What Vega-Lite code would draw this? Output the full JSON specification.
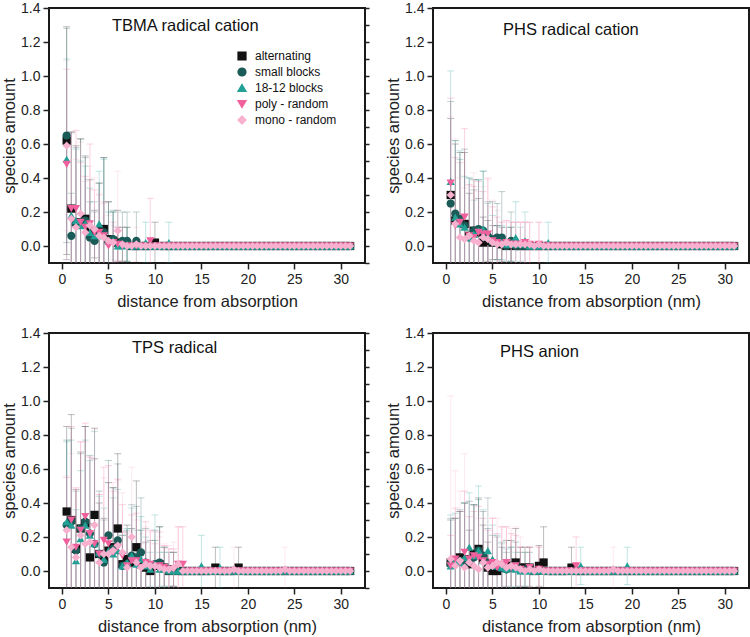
{
"$schema":"https://vega.github.io/schema/vega-lite/v6.json",
"padding":0,
"config":{
"font":"Liberation Sans",
"view":{"stroke":"#1a1a1a","strokeWidth":2},
"axis":{"labelFont":"Liberation Sans","labelFontSize":14,"labelColor":"#222","titleFont":"Liberation Sans","titleFontSize":16.5,"titleFontWeight":"normal","titleColor":"#222","tickColor":"#222","tickWidth":1.5,"tickSize":6,"domain":false,"grid":false,"labelPadding":3},
"title":{"font":"Liberation Sans","fontSize":16.5,"fontWeight":"normal","color":"#111","anchor":"start","frame":"group"},
"legend":{"orient":"none","legendX":187,"legendY":42,"title":null,"padding":0,"labelFont":"Liberation Sans","labelFontSize":12,"labelColor":"#111","symbolSize":60,"symbolOpacity":1,"rowPadding":2,"labelOffset":7}
},
"datasets":{
"A":[
{"s":"a","x":0.5,"y":0.62,"e":0.67},{"s":"a","x":1,"y":0.22,"e":0.45},{"s":"a","x":1.5,"y":0.14,"e":0.45},{"s":"a","x":2,"y":0.13,"e":0.5},{"s":"a","x":2.5,"y":0.16,"e":0.37},{"s":"a","x":3,"y":0.09,"e":0.3},{"s":"a","x":3.5,"y":0.07,"e":0.14},{"s":"a","x":4,"y":0.09,"e":0.28},{"s":"a","x":4.5,"y":0.1,"e":0.42},{"s":"a","x":5,"y":0.04,"e":0.22},{"s":"a","x":5.5,"y":0.03,"e":0.17},{"s":"a","x":6,"y":0.02,"e":0.19},{"s":"a","x":6.5,"y":0.01,"e":0.1},{"s":"a","x":7,"y":0.01,"e":0.1},{"s":"a","x":7.5,"y":0},{"s":"a","x":8,"y":0},{"s":"a","x":8.5,"y":0},{"s":"a","x":9,"y":0},{"s":"a","x":9.5,"y":0},{"s":"a","x":10,"y":0.02,"e":0.12},{"s":"a","x":10.5,"y":0},{"s":"a","x":11,"y":0},{"s":"a","x":11.5,"y":0},{"s":"a","x":12,"y":0},
{"s":"a","x":12.5,"y":0},{"s":"a","x":13,"y":0},{"s":"a","x":13.5,"y":0},{"s":"a","x":14,"y":0},{"s":"a","x":14.5,"y":0},{"s":"a","x":15,"y":0},{"s":"a","x":15.5,"y":0},{"s":"a","x":16,"y":0},{"s":"a","x":16.5,"y":0},{"s":"a","x":17,"y":0},{"s":"a","x":17.5,"y":0},{"s":"a","x":18,"y":0},{"s":"a","x":18.5,"y":0},{"s":"a","x":19,"y":0},{"s":"a","x":19.5,"y":0},{"s":"a","x":20,"y":0},{"s":"a","x":20.5,"y":0},{"s":"a","x":21,"y":0},{"s":"a","x":21.5,"y":0},{"s":"a","x":22,"y":0},{"s":"a","x":22.5,"y":0},{"s":"a","x":23,"y":0},{"s":"a","x":23.5,"y":0},{"s":"a","x":24,"y":0},{"s":"a","x":24.5,"y":0},{"s":"a","x":25,"y":0},{"s":"a","x":25.5,"y":0},{"s":"a","x":26,"y":0},{"s":"a","x":26.5,"y":0},{"s":"a","x":27,"y":0},{"s":"a","x":27.5,"y":0},{"s":"a","x":28,"y":0},{"s":"a","x":28.5,"y":0},{"s":"a","x":29,"y":0},{"s":"a","x":29.5,"y":0},{"s":"a","x":30,"y":0},{"s":"a","x":30.5,"y":0},{"s":"a","x":31,"y":0},
{"s":"b","x":0.5,"y":0.65,"e":0.63},{"s":"b","x":1,"y":0.06,"e":0.25},{"s":"b","x":1.5,"y":0.13,"e":0.45},{"s":"b","x":2,"y":0.14,"e":0.49},{"s":"b","x":2.5,"y":0.15,"e":0.37},{"s":"b","x":3,"y":0.05,"e":0.21},{"s":"b","x":3.5,"y":0.03,"e":0.17},{"s":"b","x":4,"y":0.07,"e":0.3},{"s":"b","x":4.5,"y":0.08,"e":0.44},{"s":"b","x":5,"y":0.03,"e":0.23},{"s":"b","x":5.5,"y":0.04,"e":0.17},{"s":"b","x":6,"y":0.01,"e":0.1},{"s":"b","x":6.5,"y":0.03,"e":0.17},{"s":"b","x":7,"y":0.03,"e":0.17},{"s":"b","x":7.5,"y":0},{"s":"b","x":8,"y":0.03,"e":0.17},{"s":"b","x":8.5,"y":0},{"s":"b","x":9,"y":0},{"s":"b","x":9.5,"y":0},{"s":"b","x":10,"y":0},{"s":"b","x":10.5,"y":0},{"s":"b","x":11,"y":0},{"s":"b","x":11.5,"y":0},{"s":"b","x":12,"y":0},
{"s":"b","x":12.5,"y":0},{"s":"b","x":13,"y":0},{"s":"b","x":13.5,"y":0},{"s":"b","x":14,"y":0},{"s":"b","x":14.5,"y":0},{"s":"b","x":15,"y":0},{"s":"b","x":15.5,"y":0},{"s":"b","x":16,"y":0},{"s":"b","x":16.5,"y":0},{"s":"b","x":17,"y":0},{"s":"b","x":17.5,"y":0},{"s":"b","x":18,"y":0},{"s":"b","x":18.5,"y":0},{"s":"b","x":19,"y":0},{"s":"b","x":19.5,"y":0},{"s":"b","x":20,"y":0},{"s":"b","x":20.5,"y":0},{"s":"b","x":21,"y":0},{"s":"b","x":21.5,"y":0},{"s":"b","x":22,"y":0},{"s":"b","x":22.5,"y":0},{"s":"b","x":23,"y":0},{"s":"b","x":23.5,"y":0},{"s":"b","x":24,"y":0},{"s":"b","x":24.5,"y":0},{"s":"b","x":25,"y":0},{"s":"b","x":25.5,"y":0},{"s":"b","x":26,"y":0},{"s":"b","x":26.5,"y":0},{"s":"b","x":27,"y":0},{"s":"b","x":27.5,"y":0},{"s":"b","x":28,"y":0},{"s":"b","x":28.5,"y":0},{"s":"b","x":29,"y":0},{"s":"b","x":29.5,"y":0},{"s":"b","x":30,"y":0},{"s":"b","x":30.5,"y":0},{"s":"b","x":31,"y":0},
{"s":"c","x":0.5,"y":0.51,"e":0.59},{"s":"c","x":1,"y":0.18,"e":0.49},{"s":"c","x":1.5,"y":0.15,"e":0.42},{"s":"c","x":2,"y":0.12,"e":0.38},{"s":"c","x":2.5,"y":0.13,"e":0.34},{"s":"c","x":3,"y":0.08,"e":0.26},{"s":"c","x":3.5,"y":0.06,"e":0.2},{"s":"c","x":4,"y":0.13,"e":0.31},{"s":"c","x":4.5,"y":0.06,"e":0.45},{"s":"c","x":5,"y":0.03,"e":0.17},{"s":"c","x":5.5,"y":0.03,"e":0.17},{"s":"c","x":6,"y":0},{"s":"c","x":6.5,"y":0},{"s":"c","x":7,"y":0.01,"e":0.1},{"s":"c","x":7.5,"y":0},{"s":"c","x":8,"y":0},{"s":"c","x":8.5,"y":0},{"s":"c","x":9,"y":0.02,"e":0.12},{"s":"c","x":9.5,"y":0},{"s":"c","x":10,"y":0},{"s":"c","x":10.5,"y":0},{"s":"c","x":11,"y":0},{"s":"c","x":11.5,"y":0.02,"e":0.12},{"s":"c","x":12,"y":0},
{"s":"c","x":12.5,"y":0},{"s":"c","x":13,"y":0},{"s":"c","x":13.5,"y":0},{"s":"c","x":14,"y":0},{"s":"c","x":14.5,"y":0},{"s":"c","x":15,"y":0},{"s":"c","x":15.5,"y":0},{"s":"c","x":16,"y":0},{"s":"c","x":16.5,"y":0},{"s":"c","x":17,"y":0},{"s":"c","x":17.5,"y":0},{"s":"c","x":18,"y":0},{"s":"c","x":18.5,"y":0},{"s":"c","x":19,"y":0},{"s":"c","x":19.5,"y":0},{"s":"c","x":20,"y":0},{"s":"c","x":20.5,"y":0},{"s":"c","x":21,"y":0},{"s":"c","x":21.5,"y":0},{"s":"c","x":22,"y":0},{"s":"c","x":22.5,"y":0},{"s":"c","x":23,"y":0},{"s":"c","x":23.5,"y":0},{"s":"c","x":24,"y":0},{"s":"c","x":24.5,"y":0},{"s":"c","x":25,"y":0},{"s":"c","x":25.5,"y":0},{"s":"c","x":26,"y":0},{"s":"c","x":26.5,"y":0},{"s":"c","x":27,"y":0},{"s":"c","x":27.5,"y":0},{"s":"c","x":28,"y":0},{"s":"c","x":28.5,"y":0},{"s":"c","x":29,"y":0},{"s":"c","x":29.5,"y":0},{"s":"c","x":30,"y":0},{"s":"c","x":30.5,"y":0},{"s":"c","x":31,"y":0},
{"s":"d","x":0.5,"y":0.48,"e":0.56},{"s":"d","x":1,"y":0.22,"e":0.45},{"s":"d","x":1.5,"y":0.22,"e":0.46},{"s":"d","x":2,"y":0.14,"e":0.35},{"s":"d","x":2.5,"y":0.11,"e":0.3},{"s":"d","x":3,"y":0.13,"e":0.47},{"s":"d","x":3.5,"y":0.08,"e":0.25},{"s":"d","x":4,"y":0.08,"e":0.22},{"s":"d","x":4.5,"y":0.06,"e":0.2},{"s":"d","x":5,"y":0},{"s":"d","x":5.5,"y":0.02,"e":0.12},{"s":"d","x":6,"y":0.01,"e":0.1},{"s":"d","x":6.5,"y":0},{"s":"d","x":7,"y":0},{"s":"d","x":7.5,"y":0},{"s":"d","x":8,"y":0},{"s":"d","x":8.5,"y":0},{"s":"d","x":9,"y":0},{"s":"d","x":9.5,"y":0.03,"e":0.25},{"s":"d","x":10,"y":0},{"s":"d","x":10.5,"y":0},{"s":"d","x":11,"y":0},{"s":"d","x":11.5,"y":0},{"s":"d","x":12,"y":0},
{"s":"d","x":12.5,"y":0},{"s":"d","x":13,"y":0},{"s":"d","x":13.5,"y":0},{"s":"d","x":14,"y":0},{"s":"d","x":14.5,"y":0},{"s":"d","x":15,"y":0},{"s":"d","x":15.5,"y":0},{"s":"d","x":16,"y":0},{"s":"d","x":16.5,"y":0},{"s":"d","x":17,"y":0},{"s":"d","x":17.5,"y":0},{"s":"d","x":18,"y":0},{"s":"d","x":18.5,"y":0},{"s":"d","x":19,"y":0},{"s":"d","x":19.5,"y":0},{"s":"d","x":20,"y":0},{"s":"d","x":20.5,"y":0},{"s":"d","x":21,"y":0},{"s":"d","x":21.5,"y":0},{"s":"d","x":22,"y":0},{"s":"d","x":22.5,"y":0},{"s":"d","x":23,"y":0},{"s":"d","x":23.5,"y":0},{"s":"d","x":24,"y":0},{"s":"d","x":24.5,"y":0},{"s":"d","x":25,"y":0},{"s":"d","x":25.5,"y":0},{"s":"d","x":26,"y":0},{"s":"d","x":26.5,"y":0},{"s":"d","x":27,"y":0},{"s":"d","x":27.5,"y":0},{"s":"d","x":28,"y":0},{"s":"d","x":28.5,"y":0},{"s":"d","x":29,"y":0},{"s":"d","x":29.5,"y":0},{"s":"d","x":30,"y":0},{"s":"d","x":30.5,"y":0},{"s":"d","x":31,"y":0},
{"s":"m","x":0.5,"y":0.59,"e":0.5},{"s":"m","x":1,"y":0.16,"e":0.5},{"s":"m","x":1.5,"y":0.11,"e":0.4},{"s":"m","x":2,"y":0.19,"e":0.42},{"s":"m","x":2.5,"y":0.08,"e":0.3},{"s":"m","x":3,"y":0.12,"e":0.35},{"s":"m","x":3.5,"y":0.1,"e":0.3},{"s":"m","x":4,"y":0.06,"e":0.25},{"s":"m","x":4.5,"y":0.05,"e":0.2},{"s":"m","x":5,"y":0.03,"e":0.15},{"s":"m","x":5.5,"y":0.02,"e":0.1},{"s":"m","x":6,"y":0.09,"e":0.35},{"s":"m","x":6.5,"y":0.01,"e":0.1},{"s":"m","x":7,"y":0},{"s":"m","x":7.5,"y":0},{"s":"m","x":8,"y":0.01,"e":0.1},{"s":"m","x":8.5,"y":0},{"s":"m","x":9,"y":0},{"s":"m","x":9.5,"y":0},{"s":"m","x":10,"y":0},{"s":"m","x":10.5,"y":0},{"s":"m","x":11,"y":0},{"s":"m","x":11.5,"y":0},{"s":"m","x":12,"y":0},
{"s":"m","x":12.5,"y":0},{"s":"m","x":13,"y":0},{"s":"m","x":13.5,"y":0},{"s":"m","x":14,"y":0},{"s":"m","x":14.5,"y":0},{"s":"m","x":15,"y":0},{"s":"m","x":15.5,"y":0},{"s":"m","x":16,"y":0},{"s":"m","x":16.5,"y":0},{"s":"m","x":17,"y":0},{"s":"m","x":17.5,"y":0},{"s":"m","x":18,"y":0},{"s":"m","x":18.5,"y":0},{"s":"m","x":19,"y":0},{"s":"m","x":19.5,"y":0},{"s":"m","x":20,"y":0},{"s":"m","x":20.5,"y":0},{"s":"m","x":21,"y":0},{"s":"m","x":21.5,"y":0},{"s":"m","x":22,"y":0},{"s":"m","x":22.5,"y":0},{"s":"m","x":23,"y":0},{"s":"m","x":23.5,"y":0},{"s":"m","x":24,"y":0},{"s":"m","x":24.5,"y":0},{"s":"m","x":25,"y":0},{"s":"m","x":25.5,"y":0},{"s":"m","x":26,"y":0},{"s":"m","x":26.5,"y":0},{"s":"m","x":27,"y":0},{"s":"m","x":27.5,"y":0},{"s":"m","x":28,"y":0},{"s":"m","x":28.5,"y":0},{"s":"m","x":29,"y":0},{"s":"m","x":29.5,"y":0},{"s":"m","x":30,"y":0},{"s":"m","x":30.5,"y":0},{"s":"m","x":31,"y":0}
],
"B":[
{"s":"a","x":0.5,"y":0.3,"e":0.45},{"s":"a","x":1,"y":0.15,"e":0.45},{"s":"a","x":1.5,"y":0.15,"e":0.4},{"s":"a","x":2,"y":0.13,"e":0.42},{"s":"a","x":2.5,"y":0.06,"e":0.25},{"s":"a","x":3,"y":0.09,"e":0.3},{"s":"a","x":3.5,"y":0.08,"e":0.2},{"s":"a","x":4,"y":0.02,"e":0.15},{"s":"a","x":4.5,"y":0.03,"e":0.12},{"s":"a","x":5,"y":0.02,"e":0.1},{"s":"a","x":5.5,"y":0.02,"e":0.1},{"s":"a","x":6,"y":0.01,"e":0.1},{"s":"a","x":6.5,"y":0},{"s":"a","x":7,"y":0.01,"e":0.1},{"s":"a","x":7.5,"y":0},{"s":"a","x":8,"y":0},{"s":"a","x":8.5,"y":0},{"s":"a","x":9,"y":0},{"s":"a","x":9.5,"y":0},{"s":"a","x":10,"y":0},{"s":"a","x":10.5,"y":0},{"s":"a","x":11,"y":0},{"s":"a","x":11.5,"y":0},{"s":"a","x":12,"y":0},
{"s":"a","x":12.5,"y":0},{"s":"a","x":13,"y":0},{"s":"a","x":13.5,"y":0},{"s":"a","x":14,"y":0},{"s":"a","x":14.5,"y":0},{"s":"a","x":15,"y":0},{"s":"a","x":15.5,"y":0},{"s":"a","x":16,"y":0},{"s":"a","x":16.5,"y":0},{"s":"a","x":17,"y":0},{"s":"a","x":17.5,"y":0},{"s":"a","x":18,"y":0},{"s":"a","x":18.5,"y":0},{"s":"a","x":19,"y":0},{"s":"a","x":19.5,"y":0},{"s":"a","x":20,"y":0},{"s":"a","x":20.5,"y":0},{"s":"a","x":21,"y":0},{"s":"a","x":21.5,"y":0},{"s":"a","x":22,"y":0},{"s":"a","x":22.5,"y":0},{"s":"a","x":23,"y":0},{"s":"a","x":23.5,"y":0},{"s":"a","x":24,"y":0},{"s":"a","x":24.5,"y":0},{"s":"a","x":25,"y":0},{"s":"a","x":25.5,"y":0},{"s":"a","x":26,"y":0},{"s":"a","x":26.5,"y":0},{"s":"a","x":27,"y":0},{"s":"a","x":27.5,"y":0},{"s":"a","x":28,"y":0},{"s":"a","x":28.5,"y":0},{"s":"a","x":29,"y":0},{"s":"a","x":29.5,"y":0},{"s":"a","x":30,"y":0},{"s":"a","x":30.5,"y":0},{"s":"a","x":31,"y":0},
{"s":"b","x":0.5,"y":0.25,"e":0.6},{"s":"b","x":1,"y":0.19,"e":0.43},{"s":"b","x":1.5,"y":0.16,"e":0.35},{"s":"b","x":2,"y":0.12,"e":0.45},{"s":"b","x":2.5,"y":0.05,"e":0.35},{"s":"b","x":3,"y":0.09,"e":0.24},{"s":"b","x":3.5,"y":0.1,"e":0.29},{"s":"b","x":4,"y":0.09,"e":0.35},{"s":"b","x":4.5,"y":0.06,"e":0.2},{"s":"b","x":5,"y":0.04,"e":0.22},{"s":"b","x":5.5,"y":0.05,"e":0.2},{"s":"b","x":6,"y":0.05,"e":0.27},{"s":"b","x":6.5,"y":0},{"s":"b","x":7,"y":0.03,"e":0.17},{"s":"b","x":7.5,"y":0},{"s":"b","x":8,"y":0},{"s":"b","x":8.5,"y":0},{"s":"b","x":9,"y":0},{"s":"b","x":9.5,"y":0},{"s":"b","x":10,"y":0},{"s":"b","x":10.5,"y":0},{"s":"b","x":11,"y":0},{"s":"b","x":11.5,"y":0},{"s":"b","x":12,"y":0},
{"s":"b","x":12.5,"y":0},{"s":"b","x":13,"y":0},{"s":"b","x":13.5,"y":0},{"s":"b","x":14,"y":0},{"s":"b","x":14.5,"y":0},{"s":"b","x":15,"y":0},{"s":"b","x":15.5,"y":0},{"s":"b","x":16,"y":0},{"s":"b","x":16.5,"y":0},{"s":"b","x":17,"y":0},{"s":"b","x":17.5,"y":0},{"s":"b","x":18,"y":0},{"s":"b","x":18.5,"y":0},{"s":"b","x":19,"y":0},{"s":"b","x":19.5,"y":0},{"s":"b","x":20,"y":0},{"s":"b","x":20.5,"y":0},{"s":"b","x":21,"y":0},{"s":"b","x":21.5,"y":0},{"s":"b","x":22,"y":0},{"s":"b","x":22.5,"y":0},{"s":"b","x":23,"y":0},{"s":"b","x":23.5,"y":0},{"s":"b","x":24,"y":0},{"s":"b","x":24.5,"y":0},{"s":"b","x":25,"y":0},{"s":"b","x":25.5,"y":0},{"s":"b","x":26,"y":0},{"s":"b","x":26.5,"y":0},{"s":"b","x":27,"y":0},{"s":"b","x":27.5,"y":0},{"s":"b","x":28,"y":0},{"s":"b","x":28.5,"y":0},{"s":"b","x":29,"y":0},{"s":"b","x":29.5,"y":0},{"s":"b","x":30,"y":0},{"s":"b","x":30.5,"y":0},{"s":"b","x":31,"y":0},
{"s":"c","x":0.5,"y":0.38,"e":0.65},{"s":"c","x":1,"y":0.17,"e":0.45},{"s":"c","x":1.5,"y":0.13,"e":0.43},{"s":"c","x":2,"y":0.11,"e":0.3},{"s":"c","x":2.5,"y":0.05,"e":0.35},{"s":"c","x":3,"y":0.07,"e":0.2},{"s":"c","x":3.5,"y":0.09,"e":0.3},{"s":"c","x":4,"y":0.1,"e":0.34},{"s":"c","x":4.5,"y":0.05,"e":0.2},{"s":"c","x":5,"y":0.03,"e":0.15},{"s":"c","x":5.5,"y":0.02,"e":0.1},{"s":"c","x":6,"y":0.02,"e":0.1},{"s":"c","x":6.5,"y":0.01,"e":0.1},{"s":"c","x":7,"y":0.01,"e":0.1},{"s":"c","x":7.5,"y":0.05,"e":0.21},{"s":"c","x":8,"y":0.01,"e":0.1},{"s":"c","x":8.5,"y":0.03,"e":0.17},{"s":"c","x":9,"y":0},{"s":"c","x":9.5,"y":0},{"s":"c","x":10,"y":0},{"s":"c","x":10.5,"y":0},{"s":"c","x":11,"y":0.02,"e":0.12},{"s":"c","x":11.5,"y":0},{"s":"c","x":12,"y":0},
{"s":"c","x":12.5,"y":0},{"s":"c","x":13,"y":0},{"s":"c","x":13.5,"y":0},{"s":"c","x":14,"y":0},{"s":"c","x":14.5,"y":0},{"s":"c","x":15,"y":0},{"s":"c","x":15.5,"y":0},{"s":"c","x":16,"y":0},{"s":"c","x":16.5,"y":0},{"s":"c","x":17,"y":0},{"s":"c","x":17.5,"y":0},{"s":"c","x":18,"y":0},{"s":"c","x":18.5,"y":0},{"s":"c","x":19,"y":0},{"s":"c","x":19.5,"y":0},{"s":"c","x":20,"y":0},{"s":"c","x":20.5,"y":0},{"s":"c","x":21,"y":0},{"s":"c","x":21.5,"y":0},{"s":"c","x":22,"y":0},{"s":"c","x":22.5,"y":0},{"s":"c","x":23,"y":0},{"s":"c","x":23.5,"y":0},{"s":"c","x":24,"y":0},{"s":"c","x":24.5,"y":0},{"s":"c","x":25,"y":0},{"s":"c","x":25.5,"y":0},{"s":"c","x":26,"y":0},{"s":"c","x":26.5,"y":0},{"s":"c","x":27,"y":0},{"s":"c","x":27.5,"y":0},{"s":"c","x":28,"y":0},{"s":"c","x":28.5,"y":0},{"s":"c","x":29,"y":0},{"s":"c","x":29.5,"y":0},{"s":"c","x":30,"y":0},{"s":"c","x":30.5,"y":0},{"s":"c","x":31,"y":0},
{"s":"d","x":0.5,"y":0.37,"e":0.5},{"s":"d","x":1,"y":0.12,"e":0.4},{"s":"d","x":1.5,"y":0.14,"e":0.35},{"s":"d","x":2,"y":0.17,"e":0.52},{"s":"d","x":2.5,"y":0.06,"e":0.3},{"s":"d","x":3,"y":0.05,"e":0.3},{"s":"d","x":3.5,"y":0.08,"e":0.3},{"s":"d","x":4,"y":0.07,"e":0.25},{"s":"d","x":4.5,"y":0.07,"e":0.33},{"s":"d","x":5,"y":0.03,"e":0.2},{"s":"d","x":5.5,"y":0.02,"e":0.15},{"s":"d","x":6,"y":0.01,"e":0.13},{"s":"d","x":6.5,"y":0.02,"e":0.13},{"s":"d","x":7,"y":0.01,"e":0.13},{"s":"d","x":7.5,"y":0.01,"e":0.13},{"s":"d","x":8,"y":0.01,"e":0.13},{"s":"d","x":8.5,"y":0.02,"e":0.12},{"s":"d","x":9,"y":0.01,"e":0.13},{"s":"d","x":9.5,"y":0},{"s":"d","x":10,"y":0.01,"e":0.13},{"s":"d","x":10.5,"y":0},{"s":"d","x":11,"y":0},{"s":"d","x":11.5,"y":0},{"s":"d","x":12,"y":0},
{"s":"d","x":12.5,"y":0},{"s":"d","x":13,"y":0},{"s":"d","x":13.5,"y":0},{"s":"d","x":14,"y":0},{"s":"d","x":14.5,"y":0},{"s":"d","x":15,"y":0},{"s":"d","x":15.5,"y":0},{"s":"d","x":16,"y":0},{"s":"d","x":16.5,"y":0},{"s":"d","x":17,"y":0},{"s":"d","x":17.5,"y":0},{"s":"d","x":18,"y":0},{"s":"d","x":18.5,"y":0},{"s":"d","x":19,"y":0},{"s":"d","x":19.5,"y":0},{"s":"d","x":20,"y":0},{"s":"d","x":20.5,"y":0},{"s":"d","x":21,"y":0},{"s":"d","x":21.5,"y":0},{"s":"d","x":22,"y":0},{"s":"d","x":22.5,"y":0},{"s":"d","x":23,"y":0},{"s":"d","x":23.5,"y":0},{"s":"d","x":24,"y":0},{"s":"d","x":24.5,"y":0},{"s":"d","x":25,"y":0},{"s":"d","x":25.5,"y":0},{"s":"d","x":26,"y":0},{"s":"d","x":26.5,"y":0},{"s":"d","x":27,"y":0},{"s":"d","x":27.5,"y":0},{"s":"d","x":28,"y":0},{"s":"d","x":28.5,"y":0},{"s":"d","x":29,"y":0},{"s":"d","x":29.5,"y":0},{"s":"d","x":30,"y":0},{"s":"d","x":30.5,"y":0},{"s":"d","x":31,"y":0},
{"s":"m","x":0.5,"y":0.3,"e":0.46},{"s":"m","x":1,"y":0.13,"e":0.5},{"s":"m","x":1.5,"y":0.05,"e":0.35},{"s":"m","x":2,"y":0.04,"e":0.3},{"s":"m","x":2.5,"y":0.06,"e":0.3},{"s":"m","x":3,"y":0.03,"e":0.4},{"s":"m","x":3.5,"y":0.02,"e":0.3},{"s":"m","x":4,"y":0.05,"e":0.3},{"s":"m","x":4.5,"y":0.04,"e":0.35},{"s":"m","x":5,"y":0.02,"e":0.25},{"s":"m","x":5.5,"y":0.01,"e":0.2},{"s":"m","x":6,"y":0.01,"e":0.13},{"s":"m","x":6.5,"y":0.02,"e":0.13},{"s":"m","x":7,"y":0.01,"e":0.13},{"s":"m","x":7.5,"y":0.01,"e":0.13},{"s":"m","x":8,"y":0.01,"e":0.13},{"s":"m","x":8.5,"y":0.01,"e":0.13},{"s":"m","x":9,"y":0.01,"e":0.13},{"s":"m","x":9.5,"y":0},{"s":"m","x":10,"y":0.01,"e":0.13},{"s":"m","x":10.5,"y":0},{"s":"m","x":11,"y":0},{"s":"m","x":11.5,"y":0},{"s":"m","x":12,"y":0},
{"s":"m","x":12.5,"y":0},{"s":"m","x":13,"y":0},{"s":"m","x":13.5,"y":0},{"s":"m","x":14,"y":0},{"s":"m","x":14.5,"y":0},{"s":"m","x":15,"y":0},{"s":"m","x":15.5,"y":0},{"s":"m","x":16,"y":0},{"s":"m","x":16.5,"y":0},{"s":"m","x":17,"y":0},{"s":"m","x":17.5,"y":0},{"s":"m","x":18,"y":0},{"s":"m","x":18.5,"y":0},{"s":"m","x":19,"y":0},{"s":"m","x":19.5,"y":0},{"s":"m","x":20,"y":0},{"s":"m","x":20.5,"y":0},{"s":"m","x":21,"y":0},{"s":"m","x":21.5,"y":0},{"s":"m","x":22,"y":0},{"s":"m","x":22.5,"y":0},{"s":"m","x":23,"y":0},{"s":"m","x":23.5,"y":0},{"s":"m","x":24,"y":0},{"s":"m","x":24.5,"y":0},{"s":"m","x":25,"y":0},{"s":"m","x":25.5,"y":0},{"s":"m","x":26,"y":0},{"s":"m","x":26.5,"y":0},{"s":"m","x":27,"y":0},{"s":"m","x":27.5,"y":0},{"s":"m","x":28,"y":0},{"s":"m","x":28.5,"y":0},{"s":"m","x":29,"y":0},{"s":"m","x":29.5,"y":0},{"s":"m","x":30,"y":0},{"s":"m","x":30.5,"y":0},{"s":"m","x":31,"y":0}
],
"C":[
{"s":"a","x":0.5,"y":0.35,"e":0.5},{"s":"a","x":1,"y":0.3,"e":0.62},{"s":"a","x":1.5,"y":0.13,"e":0.35},{"s":"a","x":2,"y":0.25,"e":0.45},{"s":"a","x":2.5,"y":0.28,"e":0.57},{"s":"a","x":3,"y":0.08,"e":0.2},{"s":"a","x":3.5,"y":0.33,"e":0.51},{"s":"a","x":4,"y":0.1,"e":0.3},{"s":"a","x":4.5,"y":0.07,"e":0.24},{"s":"a","x":5,"y":0.12,"e":0.4},{"s":"a","x":5.5,"y":0.14,"e":0.35},{"s":"a","x":6,"y":0.25,"e":0.44},{"s":"a","x":6.5,"y":0.04,"e":0.17},{"s":"a","x":7,"y":0.07,"e":0.2},{"s":"a","x":7.5,"y":0.05,"e":0.2},{"s":"a","x":8,"y":0.14,"e":0.39},{"s":"a","x":8.5,"y":0.04,"e":0.2},{"s":"a","x":9,"y":0.02,"e":0.15},{"s":"a","x":9.5,"y":0},{"s":"a","x":10,"y":0.03,"e":0.15},{"s":"a","x":10.5,"y":0.04,"e":0.22},{"s":"a","x":11,"y":0.02,"e":0.12},{"s":"a","x":11.5,"y":0},{"s":"a","x":12,"y":0.01,"e":0.1},
{"s":"a","x":12.5,"y":0},{"s":"a","x":13,"y":0},{"s":"a","x":13.5,"y":0},{"s":"a","x":14,"y":0},{"s":"a","x":14.5,"y":0},{"s":"a","x":15,"y":0},{"s":"a","x":15.5,"y":0},{"s":"a","x":16,"y":0},{"s":"a","x":16.5,"y":0.02,"e":0.12},{"s":"a","x":17,"y":0},{"s":"a","x":17.5,"y":0},{"s":"a","x":18,"y":0},{"s":"a","x":18.5,"y":0},{"s":"a","x":19,"y":0.02,"e":0.12},{"s":"a","x":19.5,"y":0},{"s":"a","x":20,"y":0},{"s":"a","x":20.5,"y":0},{"s":"a","x":21,"y":0},{"s":"a","x":21.5,"y":0},{"s":"a","x":22,"y":0},{"s":"a","x":22.5,"y":0},{"s":"a","x":23,"y":0},{"s":"a","x":23.5,"y":0},{"s":"a","x":24,"y":0},{"s":"a","x":24.5,"y":0},{"s":"a","x":25,"y":0},{"s":"a","x":25.5,"y":0},{"s":"a","x":26,"y":0},{"s":"a","x":26.5,"y":0},{"s":"a","x":27,"y":0},{"s":"a","x":27.5,"y":0},{"s":"a","x":28,"y":0},{"s":"a","x":28.5,"y":0},{"s":"a","x":29,"y":0},{"s":"a","x":29.5,"y":0},{"s":"a","x":30,"y":0},{"s":"a","x":30.5,"y":0},{"s":"a","x":31,"y":0},
{"s":"b","x":0.5,"y":0.27,"e":0.5},{"s":"b","x":1,"y":0.29,"e":0.55},{"s":"b","x":1.5,"y":0.12,"e":0.35},{"s":"b","x":2,"y":0.25,"e":0.44},{"s":"b","x":2.5,"y":0.29,"e":0.56},{"s":"b","x":3,"y":0.22,"e":0.46},{"s":"b","x":3.5,"y":0.16,"e":0.5},{"s":"b","x":4,"y":0.1,"e":0.37},{"s":"b","x":4.5,"y":0.05,"e":0.25},{"s":"b","x":5,"y":0.21,"e":0.44},{"s":"b","x":5.5,"y":0.13,"e":0.36},{"s":"b","x":6,"y":0.18,"e":0.45},{"s":"b","x":6.5,"y":0.03,"e":0.2},{"s":"b","x":7,"y":0.04,"e":0.2},{"s":"b","x":7.5,"y":0.09,"e":0.3},{"s":"b","x":8,"y":0.08,"e":0.3},{"s":"b","x":8.5,"y":0.11,"e":0.32},{"s":"b","x":9,"y":0.05,"e":0.2},{"s":"b","x":9.5,"y":0.03,"e":0.15},{"s":"b","x":10,"y":0.04,"e":0.2},{"s":"b","x":10.5,"y":0.05,"e":0.21},{"s":"b","x":11,"y":0.02,"e":0.12},{"s":"b","x":11.5,"y":0.01,"e":0.1},{"s":"b","x":12,"y":0.01,"e":0.1},
{"s":"b","x":12.5,"y":0},{"s":"b","x":13,"y":0},{"s":"b","x":13.5,"y":0},{"s":"b","x":14,"y":0},{"s":"b","x":14.5,"y":0},{"s":"b","x":15,"y":0},{"s":"b","x":15.5,"y":0},{"s":"b","x":16,"y":0},{"s":"b","x":16.5,"y":0},{"s":"b","x":17,"y":0},{"s":"b","x":17.5,"y":0},{"s":"b","x":18,"y":0},{"s":"b","x":18.5,"y":0},{"s":"b","x":19,"y":0},{"s":"b","x":19.5,"y":0},{"s":"b","x":20,"y":0},{"s":"b","x":20.5,"y":0},{"s":"b","x":21,"y":0},{"s":"b","x":21.5,"y":0},{"s":"b","x":22,"y":0},{"s":"b","x":22.5,"y":0},{"s":"b","x":23,"y":0},{"s":"b","x":23.5,"y":0},{"s":"b","x":24,"y":0},{"s":"b","x":24.5,"y":0},{"s":"b","x":25,"y":0},{"s":"b","x":25.5,"y":0},{"s":"b","x":26,"y":0},{"s":"b","x":26.5,"y":0},{"s":"b","x":27,"y":0},{"s":"b","x":27.5,"y":0},{"s":"b","x":28,"y":0},{"s":"b","x":28.5,"y":0},{"s":"b","x":29,"y":0},{"s":"b","x":29.5,"y":0},{"s":"b","x":30,"y":0},{"s":"b","x":30.5,"y":0},{"s":"b","x":31,"y":0},
{"s":"c","x":0.5,"y":0.29,"e":0.47},{"s":"c","x":1,"y":0.27,"e":0.5},{"s":"c","x":1.5,"y":0.06,"e":0.3},{"s":"c","x":2,"y":0.19,"e":0.4},{"s":"c","x":2.5,"y":0.27,"e":0.5},{"s":"c","x":3,"y":0.21,"e":0.44},{"s":"c","x":3.5,"y":0.16,"e":0.66},{"s":"c","x":4,"y":0.11,"e":0.33},{"s":"c","x":4.5,"y":0.07,"e":0.3},{"s":"c","x":5,"y":0.12,"e":0.4},{"s":"c","x":5.5,"y":0.1,"e":0.33},{"s":"c","x":6,"y":0.12,"e":0.36},{"s":"c","x":6.5,"y":0.03,"e":0.18},{"s":"c","x":7,"y":0.05,"e":0.2},{"s":"c","x":7.5,"y":0.09,"e":0.28},{"s":"c","x":8,"y":0.04,"e":0.2},{"s":"c","x":8.5,"y":0.07,"e":0.25},{"s":"c","x":9,"y":0.03,"e":0.17},{"s":"c","x":9.5,"y":0.01,"e":0.1},{"s":"c","x":10,"y":0.04,"e":0.29},{"s":"c","x":10.5,"y":0.01,"e":0.1},{"s":"c","x":11,"y":0.01,"e":0.1},{"s":"c","x":11.5,"y":0},{"s":"c","x":12,"y":0},
{"s":"c","x":12.5,"y":0},{"s":"c","x":13,"y":0},{"s":"c","x":13.5,"y":0},{"s":"c","x":14,"y":0},{"s":"c","x":14.5,"y":0},{"s":"c","x":15,"y":0.03,"e":0.18},{"s":"c","x":15.5,"y":0},{"s":"c","x":16,"y":0},{"s":"c","x":16.5,"y":0},{"s":"c","x":17,"y":0.02,"e":0.12},{"s":"c","x":17.5,"y":0},{"s":"c","x":18,"y":0},{"s":"c","x":18.5,"y":0},{"s":"c","x":19,"y":0},{"s":"c","x":19.5,"y":0},{"s":"c","x":20,"y":0},{"s":"c","x":20.5,"y":0},{"s":"c","x":21,"y":0},{"s":"c","x":21.5,"y":0},{"s":"c","x":22,"y":0},{"s":"c","x":22.5,"y":0},{"s":"c","x":23,"y":0},{"s":"c","x":23.5,"y":0},{"s":"c","x":24,"y":0},{"s":"c","x":24.5,"y":0},{"s":"c","x":25,"y":0},{"s":"c","x":25.5,"y":0},{"s":"c","x":26,"y":0},{"s":"c","x":26.5,"y":0},{"s":"c","x":27,"y":0},{"s":"c","x":27.5,"y":0},{"s":"c","x":28,"y":0},{"s":"c","x":28.5,"y":0},{"s":"c","x":29,"y":0},{"s":"c","x":29.5,"y":0},{"s":"c","x":30,"y":0},{"s":"c","x":30.5,"y":0},{"s":"c","x":31,"y":0},
{"s":"d","x":0.5,"y":0.17,"e":0.38},{"s":"d","x":1,"y":0.3,"e":0.55},{"s":"d","x":1.5,"y":0.14,"e":0.35},{"s":"d","x":2,"y":0.24,"e":0.52},{"s":"d","x":2.5,"y":0.32,"e":0.55},{"s":"d","x":3,"y":0.22,"e":0.45},{"s":"d","x":3.5,"y":0.16,"e":0.5},{"s":"d","x":4,"y":0.1,"e":0.35},{"s":"d","x":4.5,"y":0.18,"e":0.43},{"s":"d","x":5,"y":0.16,"e":0.46},{"s":"d","x":5.5,"y":0.11,"e":0.36},{"s":"d","x":6,"y":0.14,"e":0.4},{"s":"d","x":6.5,"y":0.09,"e":0.3},{"s":"d","x":7,"y":0.03,"e":0.2},{"s":"d","x":7.5,"y":0.06,"e":0.27},{"s":"d","x":8,"y":0.06,"e":0.28},{"s":"d","x":8.5,"y":0.02,"e":0.14},{"s":"d","x":9,"y":0.05,"e":0.24},{"s":"d","x":9.5,"y":0.04,"e":0.2},{"s":"d","x":10,"y":0.02,"e":0.14},{"s":"d","x":10.5,"y":0.03,"e":0.2},{"s":"d","x":11,"y":0.02,"e":0.13},{"s":"d","x":11.5,"y":0.01,"e":0.12},{"s":"d","x":12,"y":0.01,"e":0.12},
{"s":"d","x":12.5,"y":0.04,"e":0.22},{"s":"d","x":13,"y":0.04,"e":0.22},{"s":"d","x":13.5,"y":0},{"s":"d","x":14,"y":0},{"s":"d","x":14.5,"y":0},{"s":"d","x":15,"y":0},{"s":"d","x":15.5,"y":0},{"s":"d","x":16,"y":0},{"s":"d","x":16.5,"y":0},{"s":"d","x":17,"y":0},{"s":"d","x":17.5,"y":0},{"s":"d","x":18,"y":0},{"s":"d","x":18.5,"y":0},{"s":"d","x":19,"y":0},{"s":"d","x":19.5,"y":0},{"s":"d","x":20,"y":0},{"s":"d","x":20.5,"y":0},{"s":"d","x":21,"y":0},{"s":"d","x":21.5,"y":0},{"s":"d","x":22,"y":0},{"s":"d","x":22.5,"y":0},{"s":"d","x":23,"y":0},{"s":"d","x":23.5,"y":0},{"s":"d","x":24,"y":0},{"s":"d","x":24.5,"y":0},{"s":"d","x":25,"y":0},{"s":"d","x":25.5,"y":0},{"s":"d","x":26,"y":0},{"s":"d","x":26.5,"y":0},{"s":"d","x":27,"y":0},{"s":"d","x":27.5,"y":0},{"s":"d","x":28,"y":0},{"s":"d","x":28.5,"y":0},{"s":"d","x":29,"y":0},{"s":"d","x":29.5,"y":0},{"s":"d","x":30,"y":0},{"s":"d","x":30.5,"y":0},{"s":"d","x":31,"y":0},
{"s":"m","x":0.5,"y":0.24,"e":0.32},{"s":"m","x":1,"y":0.14,"e":0.55},{"s":"m","x":1.5,"y":0.08,"e":0.4},{"s":"m","x":2,"y":0.21,"e":0.55},{"s":"m","x":2.5,"y":0.16,"e":0.6},{"s":"m","x":3,"y":0.17,"e":0.5},{"s":"m","x":3.5,"y":0.27,"e":0.56},{"s":"m","x":4,"y":0.05,"e":0.4},{"s":"m","x":4.5,"y":0.1,"e":0.45},{"s":"m","x":5,"y":0.1,"e":0.42},{"s":"m","x":5.5,"y":0.12,"e":0.4},{"s":"m","x":6,"y":0.15,"e":0.38},{"s":"m","x":6.5,"y":0.11,"e":0.35},{"s":"m","x":7,"y":0.02,"e":0.2},{"s":"m","x":7.5,"y":0.2,"e":0.41},{"s":"m","x":8,"y":0.05,"e":0.25},{"s":"m","x":8.5,"y":0.02,"e":0.2},{"s":"m","x":9,"y":0.04,"e":0.22},{"s":"m","x":9.5,"y":0.03,"e":0.2},{"s":"m","x":10,"y":0.03,"e":0.2},{"s":"m","x":10.5,"y":0.02,"e":0.18},{"s":"m","x":11,"y":0.01,"e":0.15},{"s":"m","x":11.5,"y":0.01,"e":0.14},{"s":"m","x":12,"y":0.02,"e":0.15},
{"s":"m","x":12.5,"y":0.04,"e":0.22},{"s":"m","x":13,"y":0},{"s":"m","x":13.5,"y":0},{"s":"m","x":14,"y":0},{"s":"m","x":14.5,"y":0},{"s":"m","x":15,"y":0},{"s":"m","x":15.5,"y":0},{"s":"m","x":16,"y":0},{"s":"m","x":16.5,"y":0},{"s":"m","x":17,"y":0},{"s":"m","x":17.5,"y":0},{"s":"m","x":18,"y":0},{"s":"m","x":18.5,"y":0.01,"e":0.13},{"s":"m","x":19,"y":0},{"s":"m","x":19.5,"y":0},{"s":"m","x":20,"y":0},{"s":"m","x":20.5,"y":0},{"s":"m","x":21,"y":0},{"s":"m","x":21.5,"y":0},{"s":"m","x":22,"y":0},{"s":"m","x":22.5,"y":0},{"s":"m","x":23,"y":0},{"s":"m","x":23.5,"y":0},{"s":"m","x":24,"y":0.01,"e":0.13},{"s":"m","x":24.5,"y":0},{"s":"m","x":25,"y":0},{"s":"m","x":25.5,"y":0},{"s":"m","x":26,"y":0},{"s":"m","x":26.5,"y":0},{"s":"m","x":27,"y":0},{"s":"m","x":27.5,"y":0},{"s":"m","x":28,"y":0},{"s":"m","x":28.5,"y":0},{"s":"m","x":29,"y":0},{"s":"m","x":29.5,"y":0},{"s":"m","x":30,"y":0},{"s":"m","x":30.5,"y":0},{"s":"m","x":31,"y":0}
],
"D":[
{"s":"a","x":0.5,"y":0.05,"e":0.25},{"s":"a","x":1,"y":0.06,"e":0.25},{"s":"a","x":1.5,"y":0.08,"e":0.27},{"s":"a","x":2,"y":0.07,"e":0.33},{"s":"a","x":2.5,"y":0.04,"e":0.2},{"s":"a","x":3,"y":0.1,"e":0.29},{"s":"a","x":3.5,"y":0.13,"e":0.3},{"s":"a","x":4,"y":0.07,"e":0.2},{"s":"a","x":4.5,"y":0.02,"e":0.15},{"s":"a","x":5,"y":0},{"s":"a","x":5.5,"y":0},{"s":"a","x":6,"y":0.02,"e":0.12},{"s":"a","x":6.5,"y":0.03,"e":0.15},{"s":"a","x":7,"y":0.03,"e":0.15},{"s":"a","x":7.5,"y":0.05,"e":0.2},{"s":"a","x":8,"y":0.02,"e":0.12},{"s":"a","x":8.5,"y":0.02,"e":0.12},{"s":"a","x":9,"y":0.02,"e":0.12},{"s":"a","x":9.5,"y":0},{"s":"a","x":10,"y":0.03,"e":0.12},{"s":"a","x":10.5,"y":0.05,"e":0.21},{"s":"a","x":11,"y":0},{"s":"a","x":11.5,"y":0},{"s":"a","x":12,"y":0},
{"s":"a","x":12.5,"y":0},{"s":"a","x":13,"y":0},{"s":"a","x":13.5,"y":0.02,"e":0.12},{"s":"a","x":14,"y":0},{"s":"a","x":14.5,"y":0},{"s":"a","x":15,"y":0},{"s":"a","x":15.5,"y":0},{"s":"a","x":16,"y":0},{"s":"a","x":16.5,"y":0},{"s":"a","x":17,"y":0},{"s":"a","x":17.5,"y":0},{"s":"a","x":18,"y":0},{"s":"a","x":18.5,"y":0},{"s":"a","x":19,"y":0},{"s":"a","x":19.5,"y":0},{"s":"a","x":20,"y":0},{"s":"a","x":20.5,"y":0},{"s":"a","x":21,"y":0},{"s":"a","x":21.5,"y":0},{"s":"a","x":22,"y":0},{"s":"a","x":22.5,"y":0},{"s":"a","x":23,"y":0},{"s":"a","x":23.5,"y":0},{"s":"a","x":24,"y":0},{"s":"a","x":24.5,"y":0},{"s":"a","x":25,"y":0},{"s":"a","x":25.5,"y":0},{"s":"a","x":26,"y":0},{"s":"a","x":26.5,"y":0},{"s":"a","x":27,"y":0},{"s":"a","x":27.5,"y":0},{"s":"a","x":28,"y":0},{"s":"a","x":28.5,"y":0},{"s":"a","x":29,"y":0},{"s":"a","x":29.5,"y":0},{"s":"a","x":30,"y":0},{"s":"a","x":30.5,"y":0},{"s":"a","x":31,"y":0},
{"s":"b","x":0.5,"y":0.04,"e":0.27},{"s":"b","x":1,"y":0.05,"e":0.26},{"s":"b","x":1.5,"y":0.06,"e":0.3},{"s":"b","x":2,"y":0.04,"e":0.36},{"s":"b","x":2.5,"y":0.06,"e":0.35},{"s":"b","x":3,"y":0.08,"e":0.31},{"s":"b","x":3.5,"y":0.12,"e":0.3},{"s":"b","x":4,"y":0.09,"e":0.26},{"s":"b","x":4.5,"y":0.05,"e":0.2},{"s":"b","x":5,"y":0.03,"e":0.18},{"s":"b","x":5.5,"y":0.03,"e":0.17},{"s":"b","x":6,"y":0.02,"e":0.15},{"s":"b","x":6.5,"y":0.01,"e":0.1},{"s":"b","x":7,"y":0.02,"e":0.12},{"s":"b","x":7.5,"y":0.03,"e":0.14},{"s":"b","x":8,"y":0.01,"e":0.1},{"s":"b","x":8.5,"y":0.01,"e":0.1},{"s":"b","x":9,"y":0.01,"e":0.1},{"s":"b","x":9.5,"y":0},{"s":"b","x":10,"y":0},{"s":"b","x":10.5,"y":0},{"s":"b","x":11,"y":0},{"s":"b","x":11.5,"y":0},{"s":"b","x":12,"y":0},
{"s":"b","x":12.5,"y":0},{"s":"b","x":13,"y":0},{"s":"b","x":13.5,"y":0},{"s":"b","x":14,"y":0},{"s":"b","x":14.5,"y":0},{"s":"b","x":15,"y":0},{"s":"b","x":15.5,"y":0},{"s":"b","x":16,"y":0},{"s":"b","x":16.5,"y":0},{"s":"b","x":17,"y":0},{"s":"b","x":17.5,"y":0},{"s":"b","x":18,"y":0},{"s":"b","x":18.5,"y":0},{"s":"b","x":19,"y":0},{"s":"b","x":19.5,"y":0},{"s":"b","x":20,"y":0},{"s":"b","x":20.5,"y":0},{"s":"b","x":21,"y":0},{"s":"b","x":21.5,"y":0},{"s":"b","x":22,"y":0},{"s":"b","x":22.5,"y":0},{"s":"b","x":23,"y":0},{"s":"b","x":23.5,"y":0},{"s":"b","x":24,"y":0},{"s":"b","x":24.5,"y":0},{"s":"b","x":25,"y":0},{"s":"b","x":25.5,"y":0},{"s":"b","x":26,"y":0},{"s":"b","x":26.5,"y":0},{"s":"b","x":27,"y":0},{"s":"b","x":27.5,"y":0},{"s":"b","x":28,"y":0},{"s":"b","x":28.5,"y":0},{"s":"b","x":29,"y":0},{"s":"b","x":29.5,"y":0},{"s":"b","x":30,"y":0},{"s":"b","x":30.5,"y":0},{"s":"b","x":31,"y":0},
{"s":"c","x":0.5,"y":0.03,"e":0.3},{"s":"c","x":1,"y":0.06,"e":0.28},{"s":"c","x":1.5,"y":0.05,"e":0.3},{"s":"c","x":2,"y":0.08,"e":0.32},{"s":"c","x":2.5,"y":0.14,"e":0.32},{"s":"c","x":3,"y":0.09,"e":0.3},{"s":"c","x":3.5,"y":0.12,"e":0.38},{"s":"c","x":4,"y":0.06,"e":0.3},{"s":"c","x":4.5,"y":0.12,"e":0.31},{"s":"c","x":5,"y":0.07,"e":0.2},{"s":"c","x":5.5,"y":0.03,"e":0.18},{"s":"c","x":6,"y":0.02,"e":0.14},{"s":"c","x":6.5,"y":0.01,"e":0.12},{"s":"c","x":7,"y":0.02,"e":0.12},{"s":"c","x":7.5,"y":0.01,"e":0.1},{"s":"c","x":8,"y":0},{"s":"c","x":8.5,"y":0},{"s":"c","x":9,"y":0},{"s":"c","x":9.5,"y":0},{"s":"c","x":10,"y":0},{"s":"c","x":10.5,"y":0},{"s":"c","x":11,"y":0},{"s":"c","x":11.5,"y":0},{"s":"c","x":12,"y":0},
{"s":"c","x":12.5,"y":0},{"s":"c","x":13,"y":0},{"s":"c","x":13.5,"y":0},{"s":"c","x":14,"y":0},{"s":"c","x":14.5,"y":0.03,"e":0.11},{"s":"c","x":15,"y":0},{"s":"c","x":15.5,"y":0},{"s":"c","x":16,"y":0},{"s":"c","x":16.5,"y":0},{"s":"c","x":17,"y":0},{"s":"c","x":17.5,"y":0},{"s":"c","x":18,"y":0},{"s":"c","x":18.5,"y":0},{"s":"c","x":19,"y":0},{"s":"c","x":19.5,"y":0.03,"e":0.11},{"s":"c","x":20,"y":0},{"s":"c","x":20.5,"y":0},{"s":"c","x":21,"y":0},{"s":"c","x":21.5,"y":0},{"s":"c","x":22,"y":0},{"s":"c","x":22.5,"y":0},{"s":"c","x":23,"y":0},{"s":"c","x":23.5,"y":0},{"s":"c","x":24,"y":0},{"s":"c","x":24.5,"y":0},{"s":"c","x":25,"y":0},{"s":"c","x":25.5,"y":0},{"s":"c","x":26,"y":0},{"s":"c","x":26.5,"y":0},{"s":"c","x":27,"y":0},{"s":"c","x":27.5,"y":0},{"s":"c","x":28,"y":0},{"s":"c","x":28.5,"y":0},{"s":"c","x":29,"y":0},{"s":"c","x":29.5,"y":0},{"s":"c","x":30,"y":0},{"s":"c","x":30.5,"y":0},{"s":"c","x":31,"y":0},
{"s":"d","x":0.5,"y":0.03,"e":0.18},{"s":"d","x":1,"y":0.07,"e":0.3},{"s":"d","x":1.5,"y":0.05,"e":0.3},{"s":"d","x":2,"y":0.11,"e":0.36},{"s":"d","x":2.5,"y":0.07,"e":0.25},{"s":"d","x":3,"y":0.09,"e":0.26},{"s":"d","x":3.5,"y":0.08,"e":0.3},{"s":"d","x":4,"y":0.06,"e":0.25},{"s":"d","x":4.5,"y":0.04,"e":0.2},{"s":"d","x":5,"y":0.05,"e":0.26},{"s":"d","x":5.5,"y":0.02,"e":0.2},{"s":"d","x":6,"y":0.04,"e":0.22},{"s":"d","x":6.5,"y":0.05,"e":0.21},{"s":"d","x":7,"y":0.02,"e":0.2},{"s":"d","x":7.5,"y":0.03,"e":0.18},{"s":"d","x":8,"y":0.01,"e":0.13},{"s":"d","x":8.5,"y":0},{"s":"d","x":9,"y":0.02,"e":0.12},{"s":"d","x":9.5,"y":0},{"s":"d","x":10,"y":0.01,"e":0.13},{"s":"d","x":10.5,"y":0},{"s":"d","x":11,"y":0},{"s":"d","x":11.5,"y":0},{"s":"d","x":12,"y":0},
{"s":"d","x":12.5,"y":0},{"s":"d","x":13,"y":0},{"s":"d","x":13.5,"y":0},{"s":"d","x":14,"y":0.03,"e":0.17},{"s":"d","x":14.5,"y":0},{"s":"d","x":15,"y":0},{"s":"d","x":15.5,"y":0},{"s":"d","x":16,"y":0},{"s":"d","x":16.5,"y":0},{"s":"d","x":17,"y":0},{"s":"d","x":17.5,"y":0},{"s":"d","x":18,"y":0},{"s":"d","x":18.5,"y":0},{"s":"d","x":19,"y":0},{"s":"d","x":19.5,"y":0},{"s":"d","x":20,"y":0},{"s":"d","x":20.5,"y":0},{"s":"d","x":21,"y":0},{"s":"d","x":21.5,"y":0},{"s":"d","x":22,"y":0},{"s":"d","x":22.5,"y":0},{"s":"d","x":23,"y":0},{"s":"d","x":23.5,"y":0},{"s":"d","x":24,"y":0},{"s":"d","x":24.5,"y":0},{"s":"d","x":25,"y":0},{"s":"d","x":25.5,"y":0},{"s":"d","x":26,"y":0},{"s":"d","x":26.5,"y":0},{"s":"d","x":27,"y":0},{"s":"d","x":27.5,"y":0},{"s":"d","x":28,"y":0},{"s":"d","x":28.5,"y":0},{"s":"d","x":29,"y":0},{"s":"d","x":29.5,"y":0},{"s":"d","x":30,"y":0},{"s":"d","x":30.5,"y":0},{"s":"d","x":31,"y":0},
{"s":"m","x":0.5,"y":0.07,"e":0.96},{"s":"m","x":1,"y":0.03,"e":0.56},{"s":"m","x":1.5,"y":0.06,"e":0.41},{"s":"m","x":2,"y":0.02,"e":0.67},{"s":"m","x":2.5,"y":0.05,"e":0.36},{"s":"m","x":3,"y":0.03,"e":0.36},{"s":"m","x":3.5,"y":0.01,"e":0.3},{"s":"m","x":4,"y":0.05,"e":0.3},{"s":"m","x":4.5,"y":0.02,"e":0.41},{"s":"m","x":5,"y":0.03,"e":0.28},{"s":"m","x":5.5,"y":0.05,"e":0.26},{"s":"m","x":6,"y":0.04,"e":0.22},{"s":"m","x":6.5,"y":0.02,"e":0.24},{"s":"m","x":7,"y":0.03,"e":0.22},{"s":"m","x":7.5,"y":0.02,"e":0.24},{"s":"m","x":8,"y":0.01,"e":0.19},{"s":"m","x":8.5,"y":0},{"s":"m","x":9,"y":0.01,"e":0.13},{"s":"m","x":9.5,"y":0},{"s":"m","x":10,"y":0.01,"e":0.13},{"s":"m","x":10.5,"y":0},{"s":"m","x":11,"y":0},{"s":"m","x":11.5,"y":0},{"s":"m","x":12,"y":0},
{"s":"m","x":12.5,"y":0},{"s":"m","x":13,"y":0},{"s":"m","x":13.5,"y":0},{"s":"m","x":14,"y":0},{"s":"m","x":14.5,"y":0},{"s":"m","x":15,"y":0},{"s":"m","x":15.5,"y":0},{"s":"m","x":16,"y":0},{"s":"m","x":16.5,"y":0},{"s":"m","x":17,"y":0},{"s":"m","x":17.5,"y":0},{"s":"m","x":18,"y":0.01,"e":0.13},{"s":"m","x":18.5,"y":0},{"s":"m","x":19,"y":0},{"s":"m","x":19.5,"y":0},{"s":"m","x":20,"y":0},{"s":"m","x":20.5,"y":0},{"s":"m","x":21,"y":0},{"s":"m","x":21.5,"y":0},{"s":"m","x":22,"y":0},{"s":"m","x":22.5,"y":0},{"s":"m","x":23,"y":0},{"s":"m","x":23.5,"y":0},{"s":"m","x":24,"y":0},{"s":"m","x":24.5,"y":0},{"s":"m","x":25,"y":0},{"s":"m","x":25.5,"y":0},{"s":"m","x":26,"y":0},{"s":"m","x":26.5,"y":0},{"s":"m","x":27,"y":0},{"s":"m","x":27.5,"y":0},{"s":"m","x":28,"y":0},{"s":"m","x":28.5,"y":0},{"s":"m","x":29,"y":0},{"s":"m","x":29.5,"y":0},{"s":"m","x":30,"y":0},{"s":"m","x":30.5,"y":0},{"s":"m","x":31,"y":0}
]
},
"columns":2,
"spacing":{"row":14,"column":13},
"resolve":{"legend":{"color":"independent","shape":"independent"}},
"concat":[
{"width":316,"height":255,"data":{"name":"A"},
"title":{"text":"TBMA radical cation","offset":-33,"dx":63},
"layer":[
{"transform":[{"filter":"datum.e > 0"}],
"mark":{"type":"errorbar","ticks":{"size":7},"thickness":1,"opacity":0.28,"clip":true},
"encoding":{
"x":{"field":"x","type":"quantitative","scale":{"domain":[-1.4,32.6],"nice":false,"zero":false},"axis":{"values":[0,5,10,15,20,25,30],"title":"distance from absorption","titlePadding":7}},
"y":{"field":"y","type":"quantitative","scale":{"domain":[-0.1,1.4],"nice":false,"zero":false},"axis":{"values":[0,0.2,0.4,0.6,0.8,1,1.2,1.4],"format":".1f","title":"species amount","titlePadding":3}},
"yError":{"field":"e"},
"color":{"field":"s","type":"nominal","scale":{"domain":["a","b","c","d","m"],"range":["#111111","#1b5b57","#23a096","#f0609c","#f7b0cd"]},"legend":{"labelExpr":"datum.label == 'a' ? 'alternating' : datum.label == 'b' ? 'small blocks' : datum.label == 'c' ? '18-12 blocks' : datum.label == 'd' ? 'poly - random' : 'mono - random'"}}}},
{"mark":{"type":"point","filled":true,"opacity":1,"size":68,"clip":true},
"encoding":{
"x":{"field":"x","type":"quantitative"},
"y":{"field":"y","type":"quantitative","axis":{"orient":"right","labels":false,"title":null,"values":[-0.1,0,0.1,0.2,0.3,0.4,0.5,0.6,0.7,0.8,0.9,1,1.1,1.2,1.3,1.4],"tickSize":4}},
"color":{"field":"s","type":"nominal","scale":{"domain":["a","b","c","d","m"],"range":["#111111","#1b5b57","#23a096","#f0609c","#f7b0cd"]},"legend":{"labelExpr":"datum.label == 'a' ? 'alternating' : datum.label == 'b' ? 'small blocks' : datum.label == 'c' ? '18-12 blocks' : datum.label == 'd' ? 'poly - random' : 'mono - random'"}},
"shape":{"field":"s","type":"nominal","scale":{"domain":["a","b","c","d","m"],"range":["square","circle","triangle-up","triangle-down","diamond"]},"legend":{"labelExpr":"datum.label == 'a' ? 'alternating' : datum.label == 'b' ? 'small blocks' : datum.label == 'c' ? '18-12 blocks' : datum.label == 'd' ? 'poly - random' : 'mono - random'"}}}}
],
"resolve":{"axis":{"y":"independent"}}},
{"width":316,"height":255,"data":{"name":"B"},
"title":{"text":"PHS radical cation","offset":-37,"dx":70},
"layer":[
{"transform":[{"filter":"datum.e > 0"}],
"mark":{"type":"errorbar","ticks":{"size":7},"thickness":1,"opacity":0.28,"clip":true},
"encoding":{
"x":{"field":"x","type":"quantitative","scale":{"domain":[-1.4,32.6],"nice":false,"zero":false},"axis":{"values":[0,5,10,15,20,25,30],"title":"distance from absorption (nm)","titlePadding":7}},
"y":{"field":"y","type":"quantitative","scale":{"domain":[-0.1,1.4],"nice":false,"zero":false},"axis":{"values":[0,0.2,0.4,0.6,0.8,1,1.2,1.4],"format":".1f","title":"species amount","titlePadding":3}},
"yError":{"field":"e"},
"color":{"field":"s","type":"nominal","scale":{"domain":["a","b","c","d","m"],"range":["#111111","#1b5b57","#23a096","#f0609c","#f7b0cd"]},"legend":null}}},
{"mark":{"type":"point","filled":true,"opacity":1,"size":68,"clip":true},
"encoding":{
"x":{"field":"x","type":"quantitative"},
"y":{"field":"y","type":"quantitative","axis":{"orient":"right","labels":false,"title":null,"values":[-0.1,0,0.1,0.2,0.3,0.4,0.5,0.6,0.7,0.8,0.9,1,1.1,1.2,1.3,1.4],"tickSize":4}},
"color":{"field":"s","type":"nominal","scale":{"domain":["a","b","c","d","m"],"range":["#111111","#1b5b57","#23a096","#f0609c","#f7b0cd"]},"legend":null},
"shape":{"field":"s","type":"nominal","scale":{"domain":["a","b","c","d","m"],"range":["square","circle","triangle-up","triangle-down","diamond"]},"legend":null}}}
],
"resolve":{"axis":{"y":"independent"}}},
{"width":316,"height":255,"data":{"name":"C"},
"title":{"text":"TPS radical","offset":-30,"dx":83},
"layer":[
{"transform":[{"filter":"datum.e > 0"}],
"mark":{"type":"errorbar","ticks":{"size":7},"thickness":1,"opacity":0.28,"clip":true},
"encoding":{
"x":{"field":"x","type":"quantitative","scale":{"domain":[-1.4,32.6],"nice":false,"zero":false},"axis":{"values":[0,5,10,15,20,25,30],"title":"distance from absorption (nm)","titlePadding":7}},
"y":{"field":"y","type":"quantitative","scale":{"domain":[-0.1,1.4],"nice":false,"zero":false},"axis":{"values":[0,0.2,0.4,0.6,0.8,1,1.2,1.4],"format":".1f","title":"species amount","titlePadding":3}},
"yError":{"field":"e"},
"color":{"field":"s","type":"nominal","scale":{"domain":["a","b","c","d","m"],"range":["#111111","#1b5b57","#23a096","#f0609c","#f7b0cd"]},"legend":null}}},
{"mark":{"type":"point","filled":true,"opacity":1,"size":68,"clip":true},
"encoding":{
"x":{"field":"x","type":"quantitative"},
"y":{"field":"y","type":"quantitative","axis":{"orient":"right","labels":false,"title":null,"values":[-0.1,0,0.1,0.2,0.3,0.4,0.5,0.6,0.7,0.8,0.9,1,1.1,1.2,1.3,1.4],"tickSize":4}},
"color":{"field":"s","type":"nominal","scale":{"domain":["a","b","c","d","m"],"range":["#111111","#1b5b57","#23a096","#f0609c","#f7b0cd"]},"legend":null},
"shape":{"field":"s","type":"nominal","scale":{"domain":["a","b","c","d","m"],"range":["square","circle","triangle-up","triangle-down","diamond"]},"legend":null}}}
],
"resolve":{"axis":{"y":"independent"}}},
{"width":316,"height":255,"data":{"name":"D"},
"title":{"text":"PHS anion","offset":-34,"dx":67},
"layer":[
{"transform":[{"filter":"datum.e > 0"}],
"mark":{"type":"errorbar","ticks":{"size":7},"thickness":1,"opacity":0.28,"clip":true},
"encoding":{
"x":{"field":"x","type":"quantitative","scale":{"domain":[-1.4,32.6],"nice":false,"zero":false},"axis":{"values":[0,5,10,15,20,25,30],"title":"distance from absorption (nm)","titlePadding":7}},
"y":{"field":"y","type":"quantitative","scale":{"domain":[-0.1,1.4],"nice":false,"zero":false},"axis":{"values":[0,0.2,0.4,0.6,0.8,1,1.2,1.4],"format":".1f","title":"species amount","titlePadding":3}},
"yError":{"field":"e"},
"color":{"field":"s","type":"nominal","scale":{"domain":["a","b","c","d","m"],"range":["#111111","#1b5b57","#23a096","#f0609c","#f7b0cd"]},"legend":null}}},
{"mark":{"type":"point","filled":true,"opacity":1,"size":68,"clip":true},
"encoding":{
"x":{"field":"x","type":"quantitative"},
"y":{"field":"y","type":"quantitative","axis":{"orient":"right","labels":false,"title":null,"values":[-0.1,0,0.1,0.2,0.3,0.4,0.5,0.6,0.7,0.8,0.9,1,1.1,1.2,1.3,1.4],"tickSize":4}},
"color":{"field":"s","type":"nominal","scale":{"domain":["a","b","c","d","m"],"range":["#111111","#1b5b57","#23a096","#f0609c","#f7b0cd"]},"legend":null},
"shape":{"field":"s","type":"nominal","scale":{"domain":["a","b","c","d","m"],"range":["square","circle","triangle-up","triangle-down","diamond"]},"legend":null}}}
],
"resolve":{"axis":{"y":"independent"}}}
]
}
